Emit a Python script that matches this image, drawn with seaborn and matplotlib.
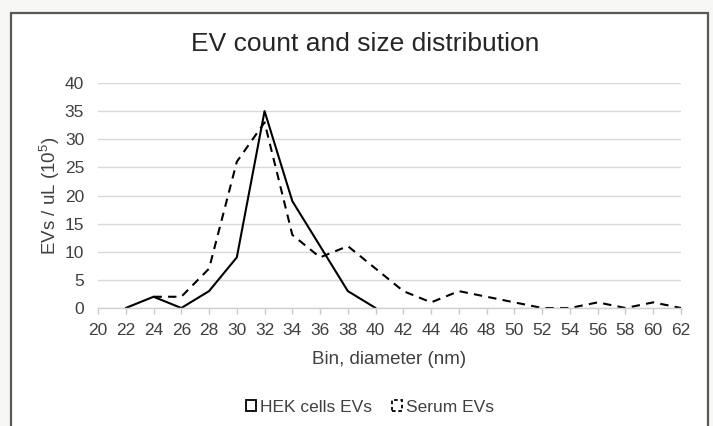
import matplotlib
matplotlib.use("Agg")
import matplotlib.pyplot as plt
from matplotlib.patches import Rectangle
import seaborn as sns
import numpy as np

# bin diameters (nm) on the x axis
bins = [20, 22, 24, 26, 28, 30, 32, 34, 36, 38, 40, 42, 44, 46, 48, 50, 52, 54, 56, 58, 60, 62]

# EVs / uL (10^5)
hek_evs = [np.nan, 0, 2, 0, 3, 9, 35, 19, 11, 3, 0,
           np.nan, np.nan, np.nan, np.nan, np.nan, np.nan, np.nan, np.nan, np.nan, np.nan, np.nan]
serum_evs = [np.nan, np.nan, 2, 2, 7, 26, 33, 13, 9, 11, 7,
             3, 1, 3, 2, 1, 0, 0, 1, 0, 1, 0]

y_ticks = [0, 5, 10, 15, 20, 25, 30, 35, 40]

sns.set_style("white")
plt.rcParams['font.family'] = ['Liberation Sans', 'DejaVu Sans']
plt.rcParams['mathtext.fontset'] = 'custom'
plt.rcParams['mathtext.rm'] = 'Liberation Sans'

fig = plt.figure(figsize=(7.13, 4.26), dpi=100, facecolor='#f7f7f5')
W, H = 713, 426

# chart box with grey border
fig.patches.append(Rectangle((11 / W, -0.02), (708 - 11) / W, (426 - 13) / H + 0.02,
                             transform=fig.transFigure, facecolor='white',
                             edgecolor='#595959', lw=1.6, zorder=-10))

ax = fig.add_axes([98 / W, 1 - 308 / H, (681 - 98) / W, (308 - 83) / H])
ax.set_facecolor('none')

sns.lineplot(x=bins, y=hek_evs, ax=ax, color='black', lw=1.5, label='HEK cells EVs')
sns.lineplot(x=bins, y=serum_evs, ax=ax, color='black', lw=1.5, linestyle=(0, (4, 3)),
             label='Serum EVs')

ax.set_xlim(20, 62)
ax.set_ylim(0, 40)
ax.set_xticks(bins)
ax.set_xticklabels([str(b) for b in bins])
ax.set_yticks(y_ticks)

ax.grid(axis='y', color='#d9d9d9', lw=1)
ax.set_axisbelow(True)
for side in ['top', 'right', 'left']:
    ax.spines[side].set_visible(False)
ax.spines['bottom'].set_color('#d0d0d0')
ax.spines['bottom'].set_linewidth(1)

ax.tick_params(axis='x', direction='out', length=4, width=1, color='#c8c8c8',
               labelsize=12.5, labelcolor='#404040', pad=6.5)
ax.tick_params(axis='y', length=0, labelsize=12.5, labelcolor='#404040', pad=10)
ax.tick_params(axis='x', bottom=True)

ax.set_xlabel('Bin, diameter (nm)', fontsize=13.5, color='#404040', labelpad=9.5)
ax.set_ylabel('EVs / uL (10$^{5}$)', fontsize=13.5, color='#404040', labelpad=2)

fig.text(0.512, 1 - 44 / H, 'EV count and size distribution', ha='center', va='center',
         fontsize=19, color='#262626')

ax.get_legend().remove()
handles = [Rectangle((0, 0), 1, 1, facecolor='white', edgecolor='black', lw=1.3),
           Rectangle((0, 0), 1, 1, facecolor='white', edgecolor='black', lw=1.3,
                     linestyle=(0, (2, 1.5)))]
fig.legend(handles, ['HEK cells EVs', 'Serum EVs'], loc='center',
           bbox_to_anchor=(370 / W, 1 - 407 / H), ncol=2, frameon=False,
           fontsize=12.5, handlelength=0.6, handleheight=0.6, handletextpad=0.25,
           columnspacing=1.1, labelcolor='#404040')

fig.savefig('out.png', dpi=100, facecolor=fig.get_facecolor())
